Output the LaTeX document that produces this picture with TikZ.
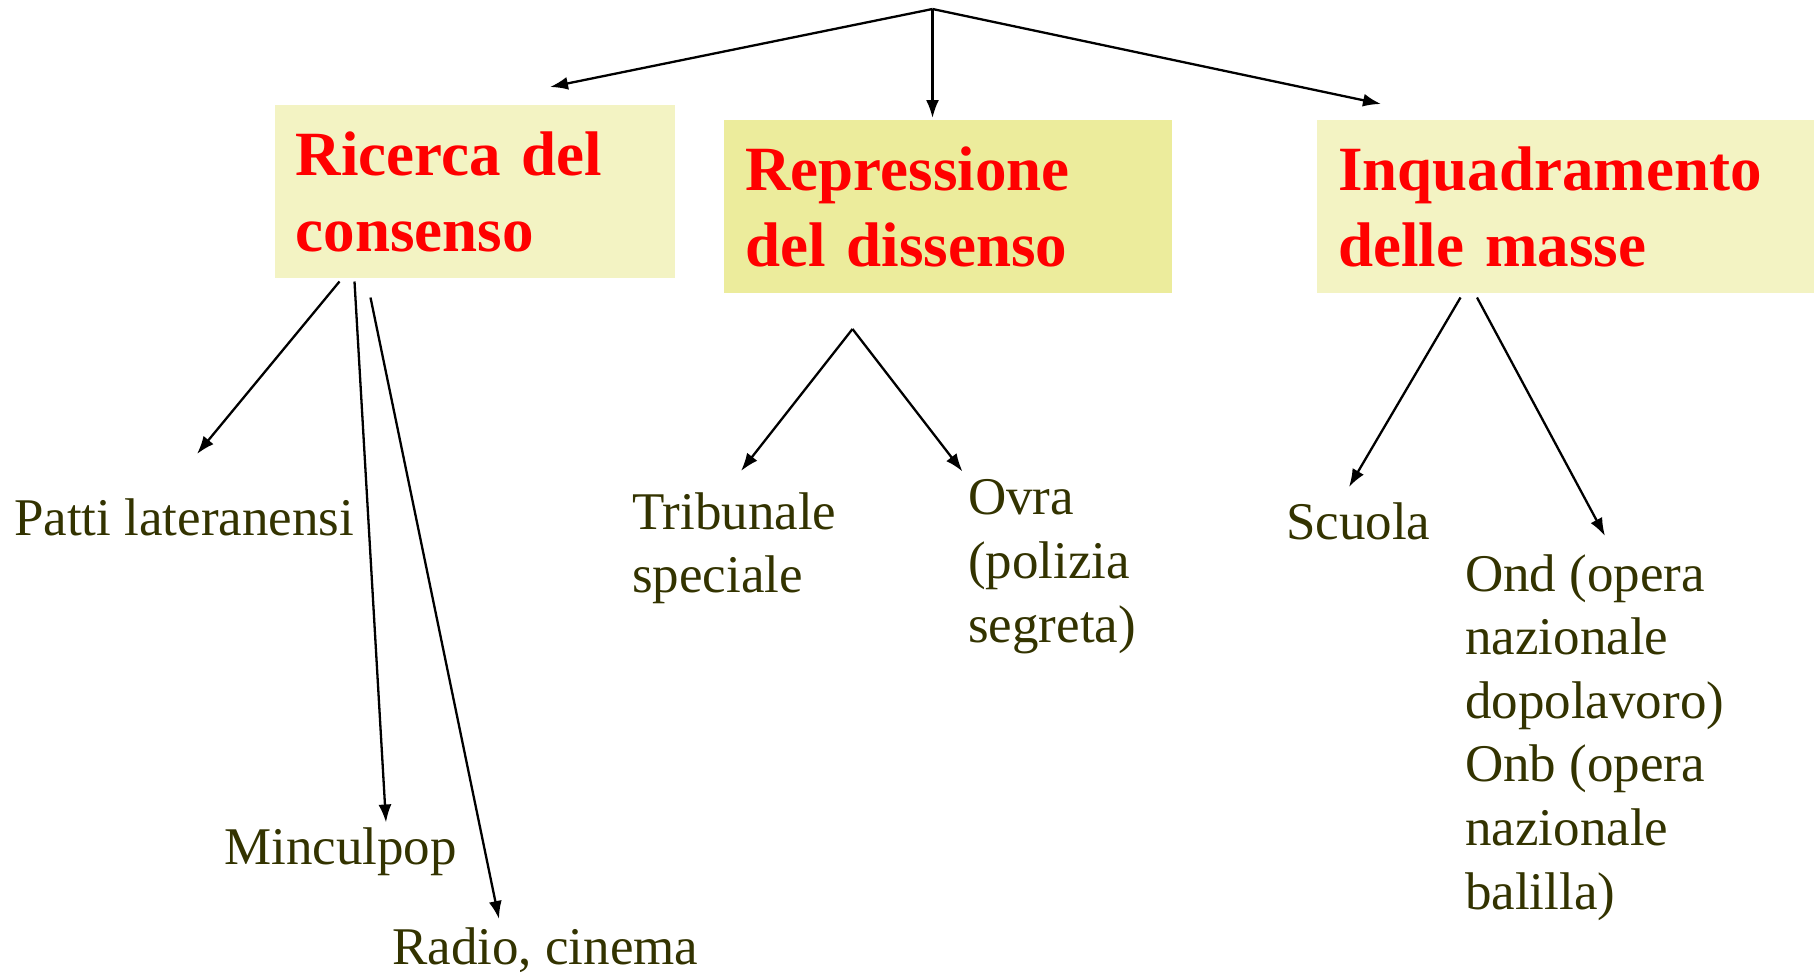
\documentclass[tikz,border=0pt]{standalone}
\usepackage{fontspec}
\setmainfont{Liberation Serif}
\usetikzlibrary{arrows.meta}
\definecolor{titlered}{HTML}{FF0000}
\definecolor{leafolive}{HTML}{333300}
\definecolor{paleyellow}{HTML}{F3F3C3}
\definecolor{darkyellow}{HTML}{ECEC9C}

\begin{document}
\begin{tikzpicture}[x=1pt,y=-1pt,
  title/.style={anchor=north west, inner xsep=21pt, inner ysep=0pt, minimum height=173pt,
    text width=#1, align=left, text=titlered, font=\fontsize{63}{76}\selectfont\bfseries},
  leaf/.style={anchor=base west, inner sep=0pt, align=left, text=leafolive,
    font=\fontsize{53}{63.6}\selectfont},
  link/.style={line width=2.3pt, ->, >={Latex[length=18pt,width=13pt]}}]

\useasboundingbox (0,0) rectangle (1814,974);

% Draw the three coloured boxes
\node[title=358.5pt, fill=paleyellow] (consenso) at (274.5,105) {Ricerca del\\consenso};
\node[title=406pt, fill=darkyellow] (dissenso) at (724,120) {Repressione\\del dissenso};
\node[title=455pt, fill=paleyellow] (masse) at (1317,120) {Inquadramento\\delle masse};

% Leaves (anchored at the baseline of their last line)
\node[leaf] (patti) at (14,535) {Patti lateranensi};
\node[leaf] (minculpop) at (224,864) {Minculpop};
\node[leaf] (radio) at (392,964) {Radio, cinema};
\node[leaf] (tribunale) at (632,592.6) {Tribunale\\speciale};
\node[leaf] (ovra) at (968,642) {Ovra\\(polizia\\segreta)};
\node[leaf] (scuola) at (1286,539) {Scuola};
\node[leaf] (ond) at (1465,909) {Ond (opera\\nazionale\\dopolavoro)\\Onb (opera\\nazionale\\balilla)};

% Free ends of the arrows
\coordinate (root) at (932.5,9);
\coordinate (consenso in) at (550,87);
\coordinate (dissenso in) at (932.5,118);
\coordinate (masse in) at (1381,104);
\coordinate (patti out) at (339.5,281.5);
\coordinate (patti in) at (197,454);
\coordinate (minculpop out) at (354.5,281.5);
\coordinate (minculpop in) at (386,822.5);
\coordinate (radio out) at (370.5,297.5);
\coordinate (radio in) at (499,919);
\coordinate (dissenso out) at (852.5,329);
\coordinate (tribunale in) at (741,471);
\coordinate (ovra in) at (962.5,471.5);
\coordinate (scuola out) at (1460.5,297.5);
\coordinate (scuola in) at (1349,487);
\coordinate (ond out) at (1477,297.5);
\coordinate (ond in) at (1605,536);

% Draw the arrows
\draw[link] (root) -- (consenso in);
\draw[link] (root) -- (dissenso in);
\draw[link] (root) -- (masse in);
\draw[link] (patti out) -- (patti in);
\draw[link] (minculpop out) -- (minculpop in);
\draw[link] (radio out) -- (radio in);
\draw[link] (dissenso out) -- (tribunale in);
\draw[link] (dissenso out) -- (ovra in);
\draw[link] (scuola out) -- (scuola in);
\draw[link] (ond out) -- (ond in);

\end{tikzpicture}
\end{document}
